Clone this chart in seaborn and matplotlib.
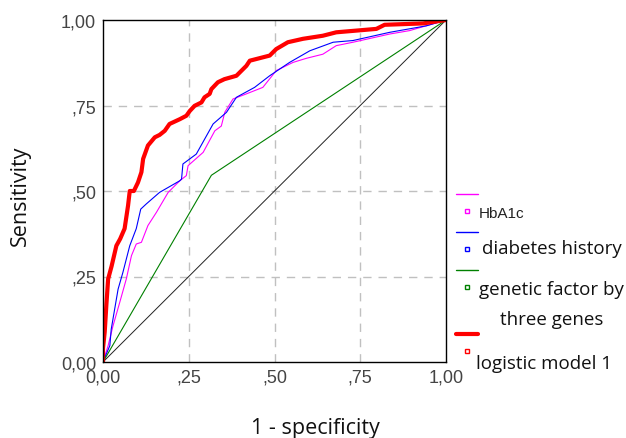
import pandas as pd
import matplotlib
matplotlib.use("Agg")
import matplotlib.pyplot as plt
import seaborn as sns
from matplotlib.lines import Line2D

# ROC curve points (1 - specificity, sensitivity)
hba1c_x = [0, 0.015, 0.029, 0.049, 0.068, 0.083, 0.097, 0.112, 0.131, 0.156, 0.19, 0.224, 0.243, 0.248,
           0.292, 0.326, 0.345, 0.355, 0.379, 0.418, 0.466, 0.505, 0.554, 0.593, 0.641, 0.68, 0.729,
           0.836, 0.894, 1.0]
hba1c_y = [0, 0.048, 0.105, 0.175, 0.243, 0.311, 0.345, 0.35, 0.399, 0.438, 0.496, 0.53, 0.545, 0.574,
           0.613, 0.676, 0.69, 0.73, 0.769, 0.784, 0.803, 0.852, 0.876, 0.888, 0.90, 0.925, 0.935,
           0.959, 0.969, 1.0]

history_x = [0, 0.02, 0.024, 0.044, 0.058, 0.078, 0.097, 0.11, 0.126, 0.165, 0.224, 0.229, 0.233, 0.272,
             0.321, 0.36, 0.389, 0.442, 0.486, 0.544, 0.603, 0.671, 0.729, 0.836, 0.943, 1.0]
history_y = [0, 0.048, 0.096, 0.213, 0.262, 0.34, 0.39, 0.447, 0.462, 0.496, 0.53, 0.535, 0.579, 0.608,
             0.696, 0.73, 0.774, 0.803, 0.837, 0.876, 0.91, 0.935, 0.94, 0.964, 0.983, 1.0]

genes_x = [0, 0.316, 1.0]
genes_y = [0, 0.546, 1.0]

logistic_x = [0, 0, 0.005, 0.010, 0.015, 0.025, 0.039, 0.050, 0.063, 0.073, 0.078, 0.090, 0.102, 0.112,
              0.117, 0.131, 0.151, 0.165, 0.18, 0.194, 0.224, 0.243, 0.253, 0.267, 0.287, 0.296, 0.311,
              0.316, 0.335, 0.354, 0.389, 0.418, 0.428, 0.486, 0.505, 0.539, 0.583, 0.641, 0.68, 0.797,
              0.821, 0.933, 1.0]
logistic_y = [0, 0.04, 0.088, 0.17, 0.243, 0.28, 0.34, 0.36, 0.39, 0.457, 0.50, 0.50, 0.525, 0.555,
              0.594, 0.633, 0.657, 0.664, 0.676, 0.696, 0.71, 0.72, 0.734, 0.749, 0.759, 0.774, 0.784,
              0.798, 0.818, 0.827, 0.837, 0.866, 0.881, 0.896, 0.915, 0.935, 0.945, 0.954, 0.964, 0.974,
              0.986, 0.99, 1.0]

ref_x = [0, 1]
ref_y = [0, 1]

tick_vals = [0, 0.25, 0.5, 0.75, 1.0]
tick_labels = ["0,00", ",25", ",50", ",75", "1,00"]

labels = ["HbA1c", "diabetes history", "genetic factor by\nthree genes", "logistic model 1"]
colors = ["#ff00ff", "#0000ff", "#008000", "#ff0000"]
widths = [0.8, 0.8, 0.8, 3.0]

sns.set_style("white")
plt.rcParams["font.family"] = ["Liberation Sans", "DejaVu Sans"]
label_font = ["Open Sans", "DejaVu Sans"]

fig = plt.figure(figsize=(6.26, 4.39), dpi=100)
ax = fig.add_axes([103 / 626, 76 / 439, 343 / 626, 342 / 439])

# dashed grid
for v in tick_vals[1:-1]:
    ax.axhline(v, color="#c0c0c0", lw=1.0, ls=(0, (6, 5)), zorder=0)
    ax.axvline(v, color="#c0c0c0", lw=1.0, ls=(0, (6, 5)), zorder=0)

sns.lineplot(x=ref_x, y=ref_y, color="#222222", lw=0.7, ax=ax)
series = [(hba1c_x, hba1c_y), (history_x, history_y), (genes_x, genes_y), (logistic_x, logistic_y)]
for (sx, sy), c, w in zip(series, colors, widths):
    df = pd.DataFrame({"x": sx, "y": sy})
    sns.lineplot(data=df, x="x", y="y", color=c, lw=w, sort=False, estimator=None, ax=ax)

ax.set_xlim(0, 1)
ax.set_ylim(0, 1)
ax.set_xticks(tick_vals)
ax.set_xticklabels(tick_labels)
ax.set_yticks(tick_vals)
ax.set_yticklabels(tick_labels)
ax.tick_params(axis="both", direction="out", length=3, width=1.5, color="black",
               labelsize=13, labelcolor="#444444", pad=2)
ax.set_xlabel("")
ax.set_ylabel("")
for s in ax.spines.values():
    s.set_color("black")
    s.set_linewidth(1.0)

fig.text(20 / 626, 1 - 196 / 439, "Sensitivity", rotation=90, ha="center", va="center",
         fontsize=15.5, family=label_font, color="#111111")
fig.text(315 / 626, 1 - 429 / 439, "1 - specificity", ha="center", va="center",
         fontsize=15.5, family=label_font, color="#111111")

# legend drawn by hand: line swatch, then hollow square + label
line_rows = [195, 233, 271, 335]
square_rows = [212, 250, 288, 352]
for i in range(4):
    yl = 1 - line_rows[i] / 439
    fig.add_artist(Line2D([456 / 626, 478 / 626], [yl, yl], color=colors[i],
                          lw=widths[i] if i == 3 else 1.0))
    ys = 1 - square_rows[i] / 439
    fig.add_artist(Line2D([467 / 626], [ys], marker="s", markersize=3.5, markerfacecolor="none",
                          markeredgecolor=colors[i], markeredgewidth=1.0, linestyle="none"))

fig.text(479 / 626, 1 - 214 / 439, labels[0], ha="left", va="center", fontsize=11,
         family=["Liberation Sans", "DejaVu Sans"], color="#222222")
fig.text(482 / 626, 1 - 249 / 439, labels[1], ha="left", va="center", fontsize=13.5,
         family=label_font, color="#111111")
gen1, gen2 = labels[2].split("\n")
fig.text(479 / 626, 1 - 290 / 439, gen1, ha="left", va="center", fontsize=13.5,
         family=label_font, color="#111111")
fig.text(552 / 626, 1 - 320 / 439, gen2, ha="center", va="center", fontsize=13.5,
         family=label_font, color="#111111")
fig.text(476 / 626, 1 - 364 / 439, labels[3], ha="left", va="center", fontsize=13.5,
         family=label_font, color="#111111")

fig.savefig("out.png", dpi=100)
